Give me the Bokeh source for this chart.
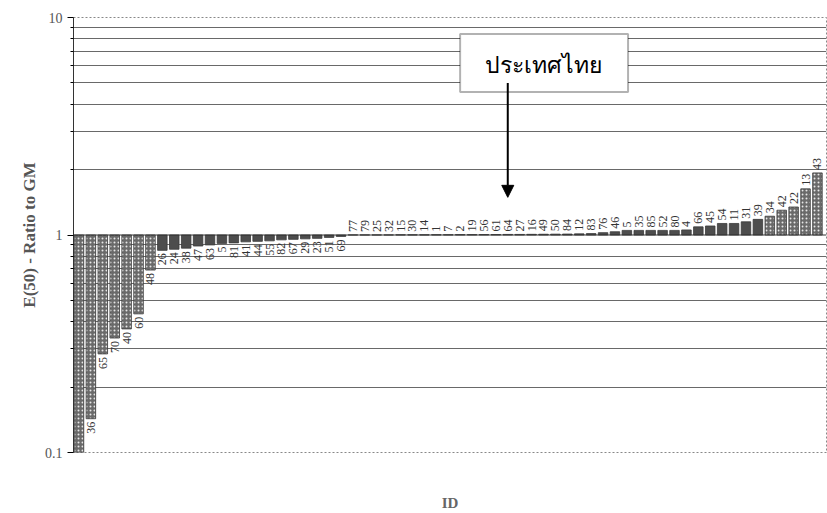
import math
from bokeh.plotting import figure
from bokeh.models import (ColumnDataSource, Range1d, FixedTicker, BoxAnnotation,
                          Label, Arrow, NormalHead, Span)
from bokeh.embed import file_html
from bokeh.resources import INLINE
from bokeh.core.properties import value

# ---- data ----
ids = ["", "36", "65", "70", "40", "60", "48", "26", "24", "38", "47", "63", "5", "81",
       "41", "44", "55", "82", "67", "29", "23", "51", "69",
       "77", "79", "25", "32", "15", "30", "14", "1", "7", "2", "19", "56", "61", "64",
       "27", "16", "49", "50", "84", "12", "83", "76", "46", "5", "35", "85", "52", "80",
       "4", "66", "45", "54", "11", "31", "39", "34", "42", "22", "13", "43"]
ratios = [0.100, 0.143, 0.284, 0.336, 0.37, 0.434, 0.69, 0.85, 0.86, 0.87, 0.89, 0.90,
          0.915, 0.92, 0.93, 0.935, 0.94, 0.95, 0.955, 0.96, 0.965, 0.975, 0.985,
          1.001, 1.001, 1.001, 1.001, 1.002, 1.002, 1.002, 1.003, 1.003, 1.004, 1.004,
          1.005, 1.005, 1.006, 1.006, 1.007, 1.008, 1.009, 1.01, 1.012, 1.015, 1.025,
          1.035, 1.05, 1.05, 1.05, 1.05, 1.05, 1.055, 1.09, 1.10, 1.13, 1.13, 1.15,
          1.18, 1.22, 1.30, 1.345, 1.63, 1.93]
major_ticks = [0.1, 1, 10]
minor_ticks = [0.2, 0.3, 0.4, 0.5, 0.6, 0.7, 0.8, 0.9, 2, 3, 4, 5, 6, 7, 8, 9]
highlight_id = "64"
highlight_text = "ประเทศไทย"

n = len(ids)
xs = list(range(n))
pattern = ["dot" if (i < 7 or i >= n - 5) else " " for i in range(n)]
fills = ["#6a6a6a" if s == "dot" else "#4d4d4d" for s in pattern]

src = ColumnDataSource(dict(x=xs, top=ratios, bottom=[1.0] * n, lab=ids,
                            hatch=pattern, fill=fills))

below = ColumnDataSource(dict(
    x=[x for x, r, l in zip(xs, ratios, ids) if r < 1 and l],
    y=[r for x, r, l in zip(xs, ratios, ids) if r < 1 and l],
    t=[l for x, r, l in zip(xs, ratios, ids) if r < 1 and l]))
above = ColumnDataSource(dict(
    x=[x for x, r, l in zip(xs, ratios, ids) if r >= 1 and l],
    y=[r for x, r, l in zip(xs, ratios, ids) if r >= 1 and l],
    t=[l for x, r, l in zip(xs, ratios, ids) if r >= 1 and l]))

p = figure(width=827, height=513, y_axis_type="log",
           x_range=Range1d(-0.46, n - 1 + 0.76), y_range=Range1d(0.1, 10),
           output_backend="svg", toolbar_location=None,
           min_border_left=73, min_border_right=1, min_border_top=17,
           min_border_bottom=61)

p.background_fill_color = "white"
p.border_fill_color = "white"
p.outline_line_color = "#888888"
p.outline_line_dash = "2 2"

p.xgrid.visible = False
p.ygrid.grid_line_color = None
p.ygrid.minor_grid_line_color = "#444444"
p.ygrid.minor_grid_line_width = 1
p.ygrid.minor_grid_line_alpha = 0.8

p.add_layout(Span(location=1, dimension="width", line_color="#333333", line_width=1))

p.vbar(x="x", top="top", bottom="bottom", width=0.8, source=src,
       fill_color="fill", line_color="#3a3a3a", line_width=0.8,
       hatch_pattern="hatch", hatch_color="#e6e6e6", hatch_scale=4, hatch_weight=1.2)

p.text(x="x", y="y", text="t", source=below, angle=math.pi / 2,
       text_align="right", text_baseline="middle", y_offset=3,
       text_font=value("Liberation Serif"), text_font_size="12px", text_color="#333333")
p.text(x="x", y="y", text="t", source=above, angle=math.pi / 2,
       text_align="left", text_baseline="middle", y_offset=-3,
       text_font=value("Liberation Serif"), text_font_size="12px", text_color="#333333")

# y axis
p.yaxis.ticker = FixedTicker(ticks=major_ticks, minor_ticks=minor_ticks)
p.yaxis.major_label_overrides = {0.1: "0.1", 1: "1", 10: "10"}
p.yaxis.axis_label = "E(50) - Ratio to GM"
p.yaxis.axis_label_text_font = "Liberation Serif"
p.yaxis.axis_label_text_font_style = "bold"
p.yaxis.axis_label_text_font_size = "17px"
p.yaxis.axis_label_text_color = "#555555"
p.yaxis.axis_label_standoff = 3
p.yaxis.major_label_text_font = "Liberation Serif"
p.yaxis.major_label_text_font_size = "14px"
p.yaxis.major_label_text_color = "#555555"
p.yaxis.axis_line_color = "#333333"
p.yaxis.major_tick_out = 6
p.yaxis.major_tick_in = 0
p.yaxis.minor_tick_out = 3
p.yaxis.minor_tick_in = 0

# x axis
p.xaxis.ticker = FixedTicker(ticks=[])
p.xaxis.axis_line_color = None
p.xaxis.major_tick_out = 0
p.xaxis.major_label_standoff = 0
p.xaxis.axis_label = "ID"
p.xaxis.axis_label_standoff = 42
p.xaxis.axis_label_text_font = "Liberation Serif"
p.xaxis.axis_label_text_font_style = "bold"
p.xaxis.axis_label_text_font_size = "15px"
p.xaxis.axis_label_text_color = "#666666"

# annotation box pointing to Thailand
hx = ids.index(highlight_id)
box = BoxAnnotation(left=hx - 4.0, right=hx + 10.1, bottom=4.54, top=8.4,
                    fill_color="white", fill_alpha=1.0, line_color="black", line_width=2)
p.add_layout(box)
p.add_layout(Label(x=hx + 3.0, y=6.0, text=highlight_text, text_align="center",
                   text_baseline="middle", text_font="Liberation Serif", text_font_size="23px",
                   text_color="black"))
p.add_layout(Arrow(end=NormalHead(size=12, fill_color="black", line_color="black"),
                   x_start=hx, y_start=5.0, x_end=hx, y_end=1.49,
                   line_color="black", line_width=2))

open("out.html", "w").write(file_html(p, INLINE))
